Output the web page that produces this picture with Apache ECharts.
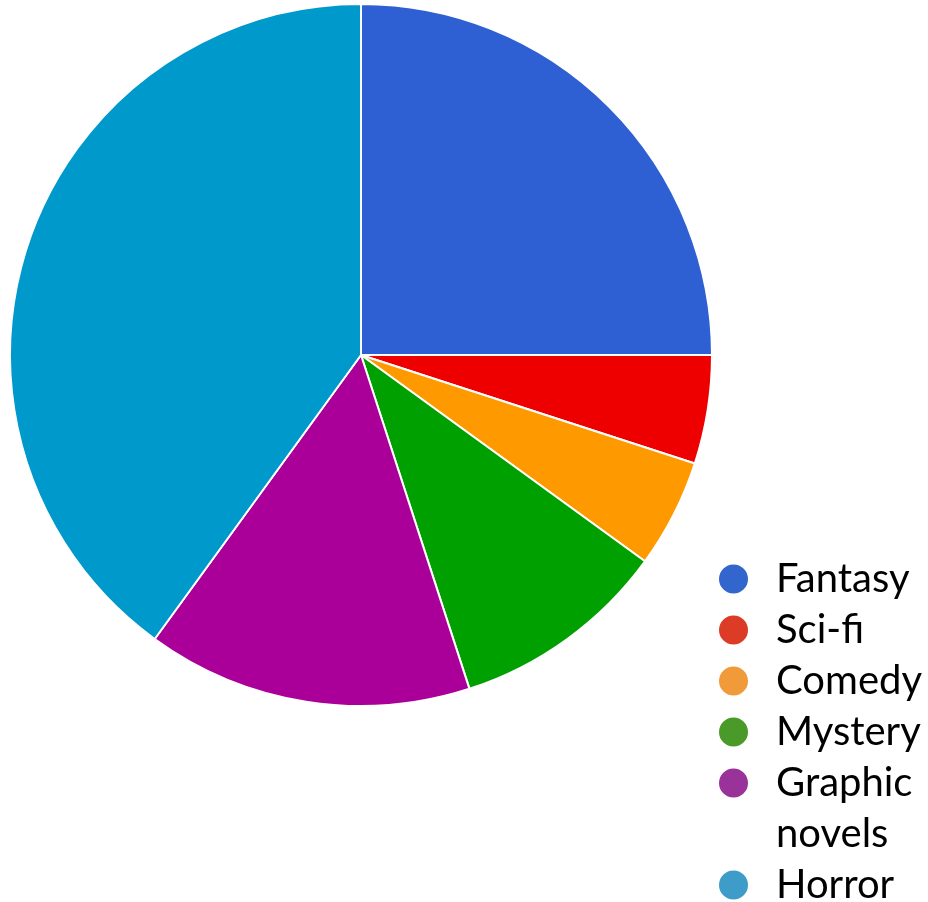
<!DOCTYPE html>
<html>
<head>
<meta charset="utf-8">
<title>Genres</title>
<script src="https://cdn.jsdelivr.net/npm/echarts@6/dist/echarts.min.js"></script>
<style>
  html, body { margin: 0; padding: 0; background: #ffffff; }
  #chart { width: 928px; height: 902px; }
</style>
</head>
<body>
<div id="chart"></div>
<script>
// Book genres and their share of the collection (percent)
const genres = ['Fantasy', 'Sci-fi', 'Comedy', 'Mystery', 'Graphic novels', 'Horror'];
const shares = [25, 5, 5, 10, 15, 40];

// Slice fills and the softer legend dot colours
const sliceColors = ['#2e5fd3', '#ee0000', '#ff9900', '#00a000', '#aa0099', '#0099cc'];
const legendColors = ['#3366cc', '#dc3b26', '#f09a3a', '#4a9a2a', '#993399', '#3d9cc8'];

const FONT = 'Lato, "Open Sans", sans-serif';
const LINE = 51;

const legendItem = (i) => ({
  name: genres[i],
  icon: 'circle',
  itemStyle: { color: legendColors[i] }
});

const legendText = { fontFamily: FONT, fontSize: 40, color: '#000', lineHeight: LINE, padding: [0, 0, 0, 22] };

const chart = echarts.init(document.getElementById('chart'), null, { renderer: 'canvas' });

chart.setOption({
  animation: false,
  backgroundColor: '#ffffff',
  color: sliceColors,
  legend: [
    {
      // first four genres, one line each
      orient: 'vertical',
      left: 717,
      top: 553.5,
      padding: 0,
      itemGap: 0,
      itemWidth: 31,
      itemHeight: 31,
      selectedMode: false,
      textStyle: legendText,
      data: [0, 1, 2, 3].map(legendItem)
    },
    {
      // "Graphic novels" wraps onto two lines, its dot stays on the first line
      orient: 'vertical',
      left: 717,
      top: 706.5,
      padding: 0,
      itemGap: 0,
      itemWidth: 31,
      itemHeight: 31,
      selectedMode: false,
      textStyle: legendText,
      formatter: (name) => name === 'Graphic novels' ? ' \nGraphic\nnovels' : name,
      data: [4, 5].map(legendItem)
    }
  ],
  series: [{
    type: 'pie',
    center: [361, 355],
    radius: 351,
    startAngle: 90,
    clockwise: true,
    label: { show: false },
    labelLine: { show: false },
    emphasis: { disabled: true },
    itemStyle: { borderColor: '#ffffff', borderWidth: 2 },
    data: genres.map((g, i) => ({ name: g, value: shares[i], itemStyle: { color: sliceColors[i] } }))
  }]
});
</script>
</body>
</html>
